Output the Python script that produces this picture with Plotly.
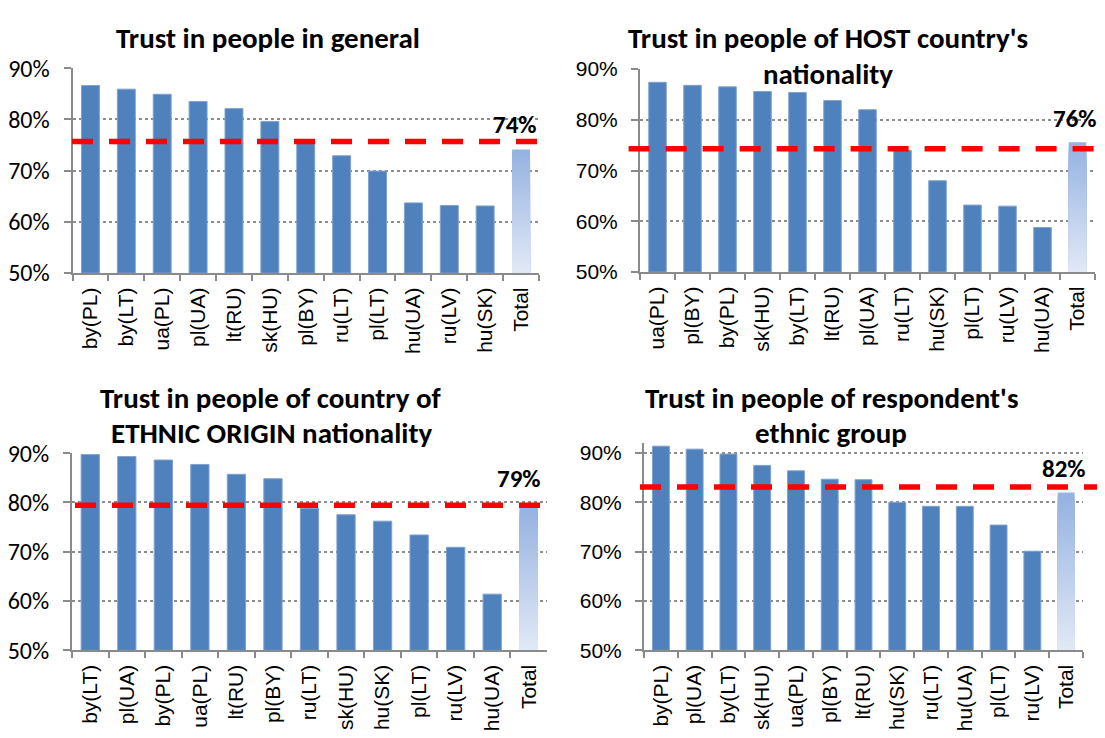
import plotly.graph_objects as go

# ---------------- data ----------------
total_label = "Total"

cats_general = ["by(PL)", "by(LT)", "ua(PL)", "pl(UA)", "lt(RU)", "sk(HU)", "pl(BY)",
                "ru(LT)", "pl(LT)", "hu(UA)", "ru(LV)", "hu(SK)"]
vals_general = [86.6, 85.9, 84.9, 83.5, 82.1, 79.6, 75.5, 72.9, 69.9, 63.7, 63.2, 63.1]
total_general = 74.1
avg_general = 75.7

cats_host = ["ua(PL)", "pl(BY)", "by(PL)", "sk(HU)", "by(LT)", "lt(RU)", "pl(UA)",
             "ru(LT)", "hu(SK)", "pl(LT)", "ru(LV)", "hu(UA)"]
vals_host = [87.4, 86.8, 86.5, 85.6, 85.4, 83.8, 82.0, 74.0, 68.0, 63.2, 63.0, 58.8]
total_host = 75.6
avg_host = 74.3

cats_origin = ["by(LT)", "pl(UA)", "by(PL)", "ua(PL)", "lt(RU)", "pl(BY)", "ru(LT)",
               "sk(HU)", "hu(SK)", "pl(LT)", "ru(LV)", "hu(UA)"]
vals_origin = [89.7, 89.3, 88.6, 87.7, 85.7, 84.8, 78.8, 77.5, 76.2, 73.4, 70.9, 61.4]
total_origin = 79.4
avg_origin = 79.4

cats_own = ["by(PL)", "pl(UA)", "by(LT)", "sk(HU)", "ua(PL)", "pl(BY)", "lt(RU)",
            "hu(SK)", "ru(LT)", "hu(UA)", "pl(LT)", "ru(LV)"]
vals_own = [91.4, 90.8, 89.8, 87.5, 86.4, 84.7, 84.6, 80.0, 79.2, 79.2, 75.4, 70.1]
total_own = 82.0
avg_own = 83.1

titles = [
    ["Trust in people in general"],
    ["Trust in people of HOST country's", "nationality"],
    ["Trust in people of country of", "ETHNIC ORIGIN nationality"],
    ["Trust in people of respondent's", "ethnic group"],
]
y_ticks = [50, 60, 70, 80, 90]

# ---------------- layout / style ----------------
W, H = 1105, 738
OFF = 8  # page body margin: screen = figure + OFF
CAL = "Carlito, Calibri, Lato, sans-serif"
ARIAL = "Liberation Sans, Arial, sans-serif"
NARROW = "Liberation Sans Narrow, Arial Narrow, Liberation Sans, Arial, sans-serif"
BAR = "#4F81BD"
GRID = "#8c8c8c"
AXIS = "#8a8a8a"

# positions given in screen pixels of the target picture
panels = [
    dict(cats=cats_general, vals=vals_general, total=total_general, avg=avg_general,
         px=(72.5, 539), py=(55, 268.3), yr=(50, 90), tfont=(CAL, 24),
         title_x=268, title_y=[24], lab=(539, 114), line=(72, 540)),
    dict(cats=cats_host, vals=vals_host, total=total_host, avg=avg_host,
         px=(640, 1095), py=(56, 267.3), yr=(50, 90), tfont=(NARROW, 21),
         title_x=828, title_y=[24, 61], lab=(1099, 107), line=(628.6, 1098.7)),
    dict(cats=cats_origin, vals=vals_origin, total=total_origin, avg=avg_origin,
         px=(72, 547), py=(455.7, 661), yr=(50, 90), tfont=(CAL, 24),
         title_x=271, title_y=[398, 435], lab=(543, 482), line=(75, 543.7)),
    dict(cats=cats_own, vals=vals_own, total=total_own, avg=avg_own,
         px=(644, 1083), py=(445.4, 661), yr=(50, 92), tfont=(NARROW, 21),
         title_x=831, title_y=[398, 435], lab=(1088, 472), line=(640, 1110)),
]

top_rgb = (148, 177, 224)
bot_rgb = (226, 233, 246)
NSEG = 40


def fx(px):
    return (px - OFF) / W


def fy(py):
    return 1 - (py - OFF) / H


fig = go.Figure()
annotations = []
shapes = []

for i, p in enumerate(panels):
    n = i + 1
    xa = "x" if n == 1 else f"x{n}"
    ya = "y" if n == 1 else f"y{n}"
    lo, hi = p["yr"]

    # regular bars
    fig.add_trace(go.Bar(
        x=p["cats"], y=[v - lo for v in p["vals"]], base=lo,
        xaxis=xa, yaxis=ya, marker=dict(color=BAR, line=dict(color="#7fa2cf", width=1)),
        width=0.5, showlegend=False, hoverinfo="skip"))

    # gradient "Total" bar: nested bars from the axis base, tallest (darkest) first
    span = p["total"] - lo
    heights, colors = [], []
    for k in range(NSEG):
        frac = 1 - k / NSEG
        t = frac - 0.5 / NSEG
        c = tuple(round(bot_rgb[j] + (top_rgb[j] - bot_rgb[j]) * t) for j in range(3))
        heights.append(span * frac)
        colors.append(f"rgb{c}")
    fig.add_trace(go.Bar(
        x=[total_label] * NSEG, y=heights, base=lo, xaxis=xa, yaxis=ya,
        marker=dict(color=colors, line=dict(width=0)), width=0.5,
        showlegend=False, hoverinfo="skip"))

    x0, x1 = p["px"]
    ytop, ybot = p["py"]
    dom_x = [fx(x0), fx(x1)]
    dom_y = [fy(ybot), fy(ytop)]
    xkey = "xaxis" if n == 1 else f"xaxis{n}"
    ykey = "yaxis" if n == 1 else f"yaxis{n}"
    fig.update_layout(**{
        xkey: dict(domain=dom_x, anchor=ya, type="category",
                   categoryorder="array", categoryarray=p["cats"] + [total_label],
                   showline=True, linecolor=AXIS, linewidth=2,
                   ticks="outside", ticklen=6, tickwidth=2, tickcolor=AXIS,
                   tickson="boundaries", tickangle=-90, ticklabelstandoff=4,
                   tickfont=dict(family=ARIAL, size=21, color="#000"),
                   showgrid=False, zeroline=False, fixedrange=True),
        ykey: dict(domain=dom_y, anchor=xa, range=[lo, hi],
                   tickvals=y_ticks, ticktext=[f"{v}%" for v in y_ticks],
                   showline=True, linecolor=AXIS, linewidth=2,
                   ticks="outside", ticklen=7, tickwidth=2, tickcolor=AXIS,
                   ticklabelstandoff=9,
                   tickfont=dict(family=p["tfont"][0], size=p["tfont"][1], color="#000"),
                   showgrid=True, gridcolor=GRID, griddash="dot", gridwidth=1.5,
                   zeroline=False, fixedrange=True),
    })

    # dashed average line
    yf = (p["avg"] - lo) / (hi - lo)
    lx0 = (p["line"][0] - x0) / (x1 - x0)
    lx1 = (p["line"][1] - x0) / (x1 - x0)
    shapes.append(dict(type="line", xref=f"{xa} domain", yref=f"{ya} domain",
                       x0=lx0, x1=lx1, y0=yf, y1=yf, layer="above",
                       line=dict(color="#ff0000", width=5.5, dash="21px,16px")))

    # titles
    for line_txt, ty in zip(titles[i], p["title_y"]):
        annotations.append(dict(text=f"<b>{line_txt}</b>", xref="paper", yref="paper",
                                x=fx(p["title_x"]), y=fy(ty), xanchor="center",
                                yanchor="middle", showarrow=False,
                                font=dict(family=CAL, size=29, color="#000")))
    # total label
    annotations.append(dict(text=f"<b>{p['total']:.0f}%</b>", xref="paper", yref="paper",
                            x=fx(p["lab"][0]), y=fy(p["lab"][1]), xanchor="right",
                            yanchor="middle", showarrow=False,
                            font=dict(family=CAL, size=25, color="#000")))

fig.update_layout(
    width=W, height=H, margin=dict(l=0, r=0, t=0, b=0),
    paper_bgcolor="white", plot_bgcolor="white",
    barmode="overlay", bargap=0.5,
    annotations=annotations, shapes=shapes, showlegend=False,
)

fig.write_html("out.html")
